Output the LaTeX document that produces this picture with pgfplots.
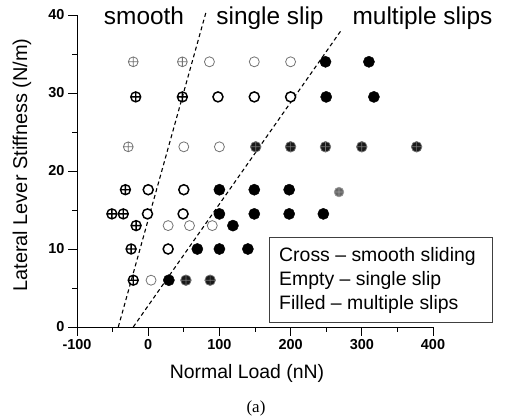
\documentclass[border=0pt]{standalone}
\usepackage{fontspec}
\setmainfont{Liberation Sans}
\newfontfamily\seriffont{Liberation Serif}
\usepackage{pgfplots}
\pgfplotsset{compat=1.18}
\begin{document}
\begin{tikzpicture}
\path[use as bounding box] (0bp,0bp) rectangle (505bp,420bp);
\begin{axis}[
  at={(77bp,93bp)}, anchor=south west,
  scale only axis, width=356bp, height=312bp,
  xmin=-100, xmax=400, ymin=0, ymax=40,
  axis lines*=left,
  tick align=outside,
  xtick={-100,0,100,200,300,400}, minor x tick num=1,
  ytick={0,10,20,30,40}, minor y tick num=1,
  major tick length=9bp, minor tick length=5bp,
  tick style={black, line width=0.8pt},
  axis line style={black, line width=0.9pt},
  /pgf/number format/assume math mode=true,
  ticklabel style={font=\fontsize{14.5}{16}\selectfont\bfseries},
  clip=false,
]
% dashed boundaries
\addplot[black, line width=1.1pt, dash pattern=on 4bp off 3bp] coordinates {(-42,0) (81,40.3)};
\addplot[black, line width=1.1pt, dash pattern=on 4bp off 3bp] coordinates {(-21,0) (270,37.9)};
% cross light
\addplot[only marks, mark=oplus, mark size=4.9bp, mark options={draw=black!55, line width=0.8pt}] coordinates {
(-21,34) (48,34) (-28,23.1)};
% cross bold
\addplot[only marks, mark=oplus, mark size=5bp, mark options={draw=black, line width=1.4pt}] coordinates {
(-17.5,29.5) (48,29.5) (-32,17.6) (-51,14.5) (-35,14.5) (-17,13) (-24,10) (-21,6)};
% empty light
\addplot[only marks, mark=*, mark size=5bp, mark options={draw=black!55, fill=white, line width=0.8pt}] coordinates {
(86,34) (149,34) (200,34) (50,23.1) (100,23.1) (28,13) (58,13) (90,13) (4,6)};
% empty bold
\addplot[only marks, mark=*, mark size=5bp, mark options={draw=black, fill=white, line width=1.5pt}] coordinates {
(98,29.5) (149,29.5) (200,29.5) (0,17.6) (50,17.6) (-1,14.5) (49,14.5) (28,10)};
% filled
\addplot[only marks, mark=*, mark size=5.6bp, mark options={draw=black, fill=black}] coordinates {
(249,34) (310,34) (250,29.5) (317,29.5) (100,17.6) (149,17.6) (198,17.6)
(100,14.5) (149,14.5) (198,14.5) (246,14.5) (119,13) (69,10) (100,10) (140,10) (29,6)};
% filled with cross
\addplot[only marks, mark=oplus*, mark size=5.3bp, mark options={draw=black!55, fill=black!90, line width=0.7pt}] coordinates {
(151,23.1) (200,23.1) (249,23.1) (300,23.1) (377,23.1) (53,6) (87,6)};
% grey crossed
\addplot[only marks, mark=oplus*, mark size=4.8bp, mark options={draw=black!40, fill=black!60, line width=0.7pt}] coordinates {
(268,17.3)};
\end{axis}
\node[font=\fontsize{19.5}{22}\selectfont] at (247bp,47bp) {Normal Load (nN)};
\node[rotate=90, font=\fontsize{20}{22}\selectfont] at (22bp,255bp) {Lateral Lever Stiffness (N/m)};
\node[anchor=base, font=\fontsize{24.5}{28}\selectfont] at (144bp,395bp) {smooth};
\node[anchor=base, font=\fontsize{24.5}{28}\selectfont] at (270bp,395bp) {single slip};
\node[anchor=base, font=\fontsize{24.5}{28}\selectfont] at (422.5bp,395bp) {multiple slips};
\draw[black!75, line width=0.7pt, fill=white] (269bp,98bp) rectangle (492bp,183bp);
\node[anchor=base west, inner sep=0pt, font=\fontsize{19.5}{22}\selectfont] at (279bp,158.5bp) {Cross -- smooth sliding};
\node[anchor=base west, inner sep=0pt, font=\fontsize{19.5}{22}\selectfont] at (279bp,134.5bp) {Empty -- single slip};
\node[anchor=base west, inner sep=0pt, font=\fontsize{19.5}{22}\selectfont] at (279bp,110.5bp) {Filled -- multiple slips};
\node[anchor=base, inner sep=0pt, font=\seriffont\fontsize{17}{20}\selectfont] at (256bp,8bp) {(a)};
\end{tikzpicture}
\end{document}
